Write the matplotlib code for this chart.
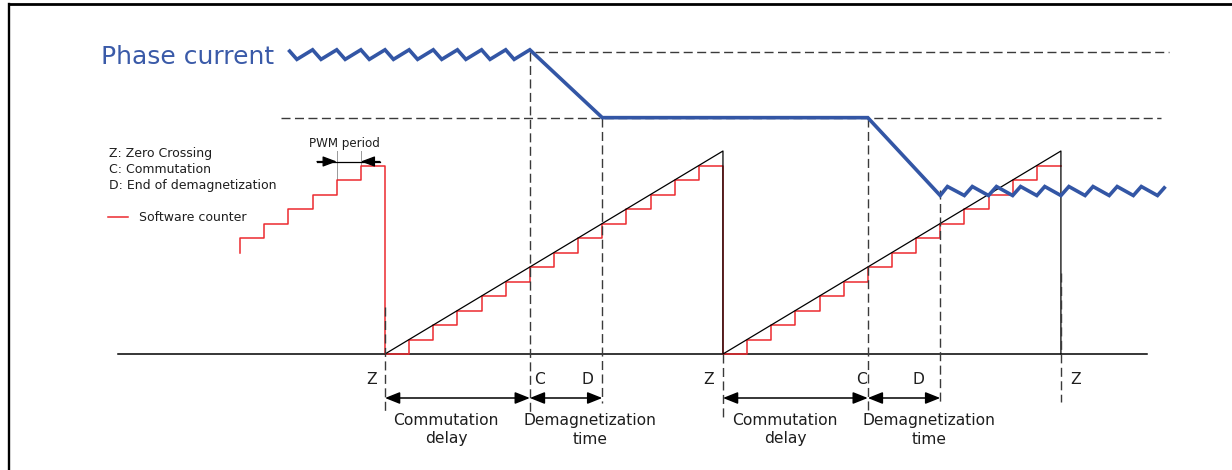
import matplotlib
matplotlib.use("Agg")
import matplotlib.pyplot as plt
from matplotlib.lines import Line2D

# ---------------- data ----------------
# time axis in PWM periods (Z of first shown ramp = 0), level axis in counter counts
zero_crossings = [0, 14, 28]
commutations = [6, 20]
demag_ends = [9, 23]
ramp_peak = 14

counter_ticks_prev = [-6, -5, -4, -3, -2, -1]
counter_prev = [8, 9, 10, 11, 12, 13]
counter_ticks_1 = [0, 1, 2, 3, 4, 5, 6, 7, 8, 9, 10, 11, 12, 13]
counter_ramp1 = [0, 1, 2, 3, 4, 5, 6, 7, 8, 9, 10, 11, 12, 13]
counter_ticks_2 = [14, 15, 16, 17, 18, 19, 20, 21, 22, 23, 24, 25, 26, 27]
counter_ramp2 = [0, 1, 2, 3, 4, 5, 6, 7, 8, 9, 10, 11, 12, 13]
counter_first_level = 7
counter_end_tick = 28

current_t = [-4, -3.65, -3, -2.65, -2, -1.65, -1, -0.65, 0, 0.35, 1, 1.35, 2, 2.35,
             3, 3.35, 4, 4.35, 5, 5.35, 6,
             9, 20,
             23, 23.3, 24, 24.33, 25, 25.33, 26, 26.33, 27, 27.33, 28, 28.33,
             29, 29.33, 30, 30.33, 31, 31.33, 32, 32.33]
current_level = [20.98, 20.32, 20.98, 20.32, 20.98, 20.32, 20.98, 20.32, 20.98, 20.32,
                 20.98, 20.32, 20.98, 20.32, 20.98, 20.32, 20.98, 20.32, 20.98, 20.32, 20.98,
                 16.3, 16.3,
                 10.93, 11.55, 10.93, 11.55, 10.93, 11.55, 10.93, 11.55, 10.93, 11.55, 10.93, 11.55,
                 10.93, 11.55, 10.93, 11.55, 10.93, 11.55, 10.93, 11.55]

upper_ref_level = 20.85
lower_ref_level = 16.3

legend_lines = ["Z: Zero Crossing", "C: Commutation", "D: End of demagnetization"]

# ---------------- figure ----------------
W, H = 1232, 470
fig = plt.figure(figsize=(W / 100, H / 100), dpi=100)
ax = fig.add_axes([0, 0, 1, 1])
ax.set_axis_off()

# pixel geometry of the scales
X0, PX_T = 385.0, 24.14
Y0, PX_L = 354.0, 14.5
ax.set_xlim(-X0 / PX_T, (W - X0) / PX_T)
ax.set_ylim((Y0 - H) / PX_L, Y0 / PX_L)


def P(xp, yp):
    return (xp - X0) / PX_T, (Y0 - yp) / PX_L


def tx(xp):
    return (xp - X0) / PX_T


def ly(yp):
    return (Y0 - yp) / PX_L


BLUE = "#3356A5"
RED = "#EC2A2F"
DASH = (0, (6.5, 3.2))
DCOL = "#3a3a3a"
TCOL = "#1e1e1e"

# frame (top and left only)
fig.add_artist(Line2D([9 / W, 1], [1 - 4 / H, 1 - 4 / H], color="black", lw=2.0,
                      transform=fig.transFigure))
fig.add_artist(Line2D([9 / W, 9 / W], [1 - 4 / H, 0], color="black", lw=1.7,
                      transform=fig.transFigure))

# baseline
ax.plot([tx(118), tx(1147)], [0, 0], color="black", lw=1.1, zorder=2)

# dashed horizontal references
ax.plot([tx(535), tx(1169)], [upper_ref_level] * 2, color=DCOL, lw=1.0, ls=DASH, zorder=1)
ax.plot([tx(281), tx(1161)], [lower_ref_level] * 2, color=DCOL, lw=1.0, ls=DASH, zorder=1)

# software counter staircase
sx = [counter_ticks_prev[0]] + counter_ticks_prev + counter_ticks_1 + counter_ticks_2 + [counter_end_tick]
sy = [counter_first_level] + counter_prev + counter_ramp1 + counter_ramp2 + [counter_ramp2[-1]]
ax.step(sx, sy, where="post", color=RED, lw=1.1, zorder=3)

# black ramps
rx, ry = [], []
for z0, z1 in zip(zero_crossings[:-1], zero_crossings[1:]):
    rx += [z0, z1, z1]
    ry += [0, ramp_peak, 0]
ax.plot(rx, ry, color="black", lw=0.9, zorder=4)

# vertical dashed event lines (top, bottom in pixels)
vspans = {
    zero_crossings[0]: (307, 412),
    zero_crossings[1]: (354, 417),
    zero_crossings[2]: (273, 402),
    commutations[0]: (52, 413),
    commutations[1]: (118, 412),
    demag_ends[0]: (118, 403),
    demag_ends[1]: (190, 402),
}
for t, (yt, yb) in vspans.items():
    ax.plot([t, t], [ly(yt), ly(yb)], color=DCOL, lw=1.0, ls=DASH, zorder=5)

# phase current
ax.plot(current_t, current_level, color=BLUE, lw=2.6, solid_joinstyle="miter",
        solid_capstyle="butt", zorder=6)

# double arrows for delay / demag time
ya = ly(398)
for a, b in [(zero_crossings[0], commutations[0]), (commutations[0], demag_ends[0]),
             (zero_crossings[1], commutations[1]), (commutations[1], demag_ends[1])]:
    ax.annotate("", xy=(b, ya), xytext=(a, ya),
                arrowprops=dict(arrowstyle="<|-|>,head_length=0.9,head_width=0.36",
                                color="black", lw=1.1, shrinkA=0, shrinkB=0))

# PWM period marker
yp = ly(161.5)
ax.plot([counter_ticks_prev[-2]] * 2, [ly(151), ly(180)], color="#999999", lw=0.7, zorder=2)
ax.plot([counter_ticks_prev[-1]] * 2, [ly(151), ly(165)], color="#999999", lw=0.7, zorder=2)
ax.plot([tx(317), tx(380)], [yp, yp], color="black", lw=0.9)
ax.annotate("", xy=(counter_ticks_prev[-2], yp), xytext=(tx(317), yp),
            arrowprops=dict(arrowstyle="-|>,head_length=0.85,head_width=0.32",
                            color="black", lw=0.9, shrinkA=0, shrinkB=0))
ax.annotate("", xy=(counter_ticks_prev[-1], yp), xytext=(tx(380), yp),
            arrowprops=dict(arrowstyle="-|>,head_length=0.85,head_width=0.32",
                            color="black", lw=0.9, shrinkA=0, shrinkB=0))
ax.text(*P(344, 146.5), "PWM period", fontsize=8.6, ha="center", va="baseline", color=TCOL)

# legend text
for i, (s, yb) in enumerate(zip(legend_lines, [156.5, 173, 188.5])):
    ax.text(*P(109, yb), s, fontsize=9.0, ha="left", va="baseline", color=TCOL)
ax.plot([tx(108), tx(128)], [ly(216.5)] * 2, color=RED, lw=1.1)
ax.text(*P(139, 221), "Software counter", fontsize=9.0, ha="left", va="baseline", color=TCOL)

# Phase current title
ax.text(*P(101, 63.5), "Phase current", fontsize=18, ha="left", va="baseline", color="#3A5AA8")

# event letters
FS = 11.2
letters = [("Z", 372), ("C", 540), ("D", 587), ("Z", 709), ("C", 862), ("D", 918), ("Z", 1076)]
for s, xp in letters:
    ax.text(*P(xp, 383.5), s, fontsize=FS, ha="center", va="baseline", color=TCOL)

for xc in [446, 785]:
    ax.text(*P(xc, 425), "Commutation", fontsize=FS, ha="center", va="baseline", color=TCOL)
    ax.text(*P(xc, 443.5), "delay", fontsize=FS, ha="center", va="baseline", color=TCOL)
for xc in [590, 929.5]:
    ax.text(*P(xc, 425), "Demagnetization", fontsize=FS, ha="center", va="baseline", color=TCOL)
    ax.text(*P(xc, 443.5), "time", fontsize=FS, ha="center", va="baseline", color=TCOL)

fig.savefig("out.png", dpi=100)
